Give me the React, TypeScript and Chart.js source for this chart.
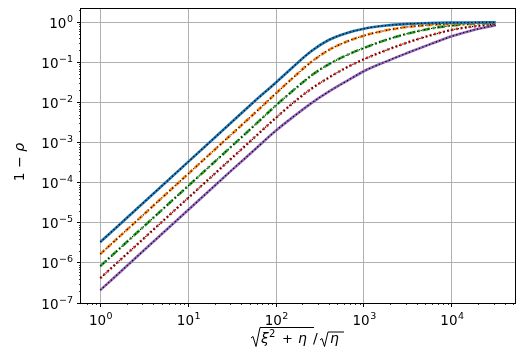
import React, { useEffect, useRef } from 'react';
import { Chart, registerables } from 'chart.js';

Chart.register(...registerables);

// x positions (sqrt(xi^2+eta)/sqrt(eta))
const xValues = [1, 3.162, 10, 31.62, 56.23, 100, 158.5, 251.2, 398.1, 631, 1000, 1778, 3162, 5623, 10000, 17783, 31623];

// 1 - rho for the five curves
const seriesBlue = [3.31e-6, 3.31e-5, 3.31e-4, 3.31e-3, 1.047e-2, 3.16e-2, 7.94e-2, 0.19, 0.363, 0.537, 0.692, 0.832, 0.917, 0.962, 0.983, 0.992, 0.997];
const seriesOrange = [1.66e-6, 1.66e-5, 1.66e-4, 1.66e-3, 5.25e-3, 1.70e-2, 4.27e-2, 0.102, 0.204, 0.327, 0.465, 0.631, 0.767, 0.861, 0.923, 0.962, 0.982];
const seriesGreen = [8.3e-7, 8.3e-6, 8.3e-5, 8.3e-4, 2.63e-3, 8.51e-3, 2.04e-2, 4.68e-2, 9.0e-2, 0.15, 0.229, 0.363, 0.525, 0.692, 0.832, 0.923, 0.968];
const seriesRed = [4.17e-7, 4.17e-6, 4.17e-5, 4.17e-4, 1.32e-3, 4.17e-3, 1.0e-2, 2.19e-2, 4.17e-2, 7.41e-2, 0.12, 0.2, 0.316, 0.468, 0.646, 0.794, 0.902];
const seriesPurple = [2.09e-7, 2.09e-6, 2.09e-5, 2.09e-4, 6.46e-4, 2.0e-3, 4.47e-3, 9.55e-3, 1.86e-2, 3.39e-2, 6.03e-2, 0.105, 0.174, 0.282, 0.447, 0.646, 0.851];

const xTicks = [1, 10, 100, 1000, 10000];
const yTicks = [1e-7, 1e-6, 1e-5, 1e-4, 1e-3, 1e-2, 1e-1, 1];

const FONT = '"DejaVu Sans", sans-serif';
const expText = (v: number) => {
  const e = Math.round(Math.log10(v));
  return e < 0 ? '−' + String(-e) : String(e);
};

const curves = [
  { data: seriesBlue, color: '#1f77b4', dash: [] as number[] },
  { data: seriesOrange, color: '#ff7f0e', dash: [6, 2.5] },
  { data: seriesGreen, color: '#2ca02c', dash: [8, 2.5, 2, 2.5] },
  { data: seriesRed, color: '#d62728', dash: [2, 2.5] },
  { data: seriesPurple, color: '#9467bd', dash: [] as number[] },
];

const BASE_FS = 13.5;
const EXP_FS = 9.5;

const drawPow = (ctx: CanvasRenderingContext2D, v: number, x: number, baseY: number, align: 'right' | 'center') => {
  const ex = expText(v);
  ctx.font = `${BASE_FS}px ${FONT}`;
  const wb = ctx.measureText('10').width;
  ctx.font = `${EXP_FS}px ${FONT}`;
  const we = ctx.measureText(ex).width;
  const total = wb + we + 0.5;
  const sx = align === 'right' ? x - total : x - total / 2;
  ctx.textAlign = 'left';
  ctx.textBaseline = 'alphabetic';
  ctx.font = `${BASE_FS}px ${FONT}`;
  ctx.fillText('10', sx, baseY);
  ctx.font = `${EXP_FS}px ${FONT}`;
  ctx.fillText(ex, sx + wb + 0.5, baseY - 6);
};

const decorPlugin = {
  id: 'decor',
  afterDraw(chart: any) {
    const ctx = chart.ctx as CanvasRenderingContext2D;
    const { left, right, top, bottom } = chart.chartArea;
    const xs = chart.scales.x;
    const ys = chart.scales.y;
    ctx.save();
    // minor ticks
    ctx.strokeStyle = '#000';
    ctx.lineWidth = 0.8;
    ctx.beginPath();
    for (let e = -1; e <= 4; e++) {
      for (let m = 2; m <= 9; m++) {
        const v = m * Math.pow(10, e);
        if (v < xs.min || v > xs.max) continue;
        const px = Math.round(xs.getPixelForValue(v)) + 0.5;
        ctx.moveTo(px, bottom);
        ctx.lineTo(px, bottom + 2);
      }
    }
    for (let e = -8; e <= 0; e++) {
      for (let m = 2; m <= 9; m++) {
        const v = m * Math.pow(10, e);
        if (v < ys.min || v > ys.max) continue;
        const py = Math.round(ys.getPixelForValue(v)) + 0.5;
        ctx.moveTo(left - 2, py);
        ctx.lineTo(left, py);
      }
    }
    ctx.stroke();
    // frame
    ctx.lineWidth = 1;
    ctx.strokeRect(Math.round(left) - 0.5, Math.round(top) - 0.5, Math.round(right - left) + 1, Math.round(bottom - top) + 1);

    // tick labels (10 with exponent)
    ctx.fillStyle = '#000';
    xs.ticks.forEach((t: any) => {
      const px = xs.getPixelForValue(t.value);
      drawPow(ctx, t.value, px + 0.5, bottom + 22, 'center');
    });
    ys.ticks.forEach((t: any) => {
      const py = ys.getPixelForValue(t.value);
      drawPow(ctx, t.value, left - 8, py + 5.5, 'right');
    });
    ctx.restore();

    // y label: 1 − ρ
    ctx.save();
    ctx.fillStyle = '#000';
    ctx.translate(20, 162);
    ctx.rotate(-Math.PI / 2);
    ctx.textBaseline = 'middle';
    ctx.textAlign = 'left';
    ctx.font = `14px ${FONT}`;
    const a = '1 − ';
    const wa = ctx.measureText(a).width;
    ctx.font = `italic 14px ${FONT}`;
    const wb = ctx.measureText('ρ').width;
    const sx = -(wa + wb) / 2;
    ctx.font = `14px ${FONT}`;
    ctx.fillText(a, sx, 0);
    ctx.font = `italic 14px ${FONT}`;
    ctx.fillText('ρ', sx + wa, 0);
    ctx.restore();

    // x label: sqrt(xi^2 + eta) / sqrt(eta)
    ctx.save();
    ctx.fillStyle = '#000';
    ctx.strokeStyle = '#000';
    ctx.lineWidth = 1;
    ctx.textBaseline = 'alphabetic';
    ctx.textAlign = 'left';
    const cx = (left + right) / 2;
    const base = 343;
    const x0 = cx - 47;
    ctx.beginPath();
    ctx.moveTo(x0, base - 5);
    ctx.lineTo(x0 + 2, base - 6.5);
    ctx.lineTo(x0 + 5, base + 3.5);
    ctx.lineTo(x0 + 9, base - 15.5);
    ctx.lineTo(x0 + 63, base - 15.5);
    ctx.stroke();
    ctx.font = `italic 14px ${FONT}`;
    ctx.fillText('ξ', x0 + 10, base);
    ctx.font = `10px ${FONT}`;
    ctx.fillText('2', x0 + 18, base - 6);
    ctx.font = `13px ${FONT}`;
    ctx.fillText('+', x0 + 31, base);
    ctx.font = `italic 14px ${FONT}`;
    ctx.fillText('η', x0 + 47, base);
    ctx.font = `14px ${FONT}`;
    ctx.fillText('/', x0 + 62, base);
    ctx.beginPath();
    ctx.moveTo(x0 + 69, base - 3);
    ctx.lineTo(x0 + 71, base - 4.5);
    ctx.lineTo(x0 + 73.5, base + 3.5);
    ctx.lineTo(x0 + 77, base - 11);
    ctx.lineTo(x0 + 93, base - 11);
    ctx.stroke();
    ctx.font = `italic 14px ${FONT}`;
    ctx.fillText('η', x0 + 79, base);
    ctx.restore();
  },
};

export default function App() {
  const ref = useRef<HTMLCanvasElement | null>(null);
  useEffect(() => {
    document.body.style.margin = '0';
    const canvas = ref.current!;
    const datasets: any[] = [];
    // Chart.js draws lower indices on top: put the black dotted overlay first in each pair
    curves.forEach((c) => {
      const pts = xValues.map((x, i) => ({ x, y: c.data[i] }));
      datasets.push({
        data: pts,
        borderColor: '#000',
        borderWidth: 1.2,
        borderDash: [1.2, 2.4],
        pointRadius: 0,
        fill: false,
        cubicInterpolationMode: 'monotone',
      });
      datasets.push({
        data: pts,
        borderColor: c.color,
        borderWidth: 2.6,
        borderDash: c.dash,
        pointRadius: 0,
        fill: false,
        cubicInterpolationMode: 'monotone',
      });
    });
    const chart = new Chart(canvas, {
      type: 'line',
      data: { datasets },
      plugins: [decorPlugin],
      options: {
        animation: false,
        responsive: false,
        devicePixelRatio: 1,
        layout: { padding: { left: 0, top: 9, right: 12, bottom: 0 } },
        plugins: { legend: { display: false }, tooltip: { enabled: false } },
        scales: {
          x: {
            type: 'logarithmic',
            min: 0.603,
            max: 52500,
            bounds: 'data',
            afterBuildTicks: (s: any) => {
              s.ticks = xTicks.map((v) => ({ value: v }));
            },
            afterFit: (s: any) => {
              s.height = 56;
            },
            grid: { color: '#b0b0b0', lineWidth: 1, tickLength: 4, tickColor: '#000', tickWidth: 1 },
            border: { display: false },
            ticks: { display: false, autoSkip: false },
          },
          y: {
            type: 'logarithmic',
            min: 1e-7,
            max: 2.15,
            bounds: 'data',
            afterBuildTicks: (s: any) => {
              s.ticks = yTicks.map((v) => ({ value: v }));
            },
            afterFit: (s: any) => {
              s.width = 81;
            },
            grid: { color: '#b0b0b0', lineWidth: 1, tickLength: 4, tickColor: '#000', tickWidth: 1 },
            border: { display: false },
            ticks: { display: false, autoSkip: false },
          },
        },
      } as any,
    });
    return () => chart.destroy();
  }, []);
  return (
    <div style={{ position: 'fixed', left: 0, top: 0, width: 527, height: 359, background: '#fff' }}>
      <canvas ref={ref} width={527} height={359} style={{ width: 527, height: 359, display: 'block' }} />
    </div>
  );
}
